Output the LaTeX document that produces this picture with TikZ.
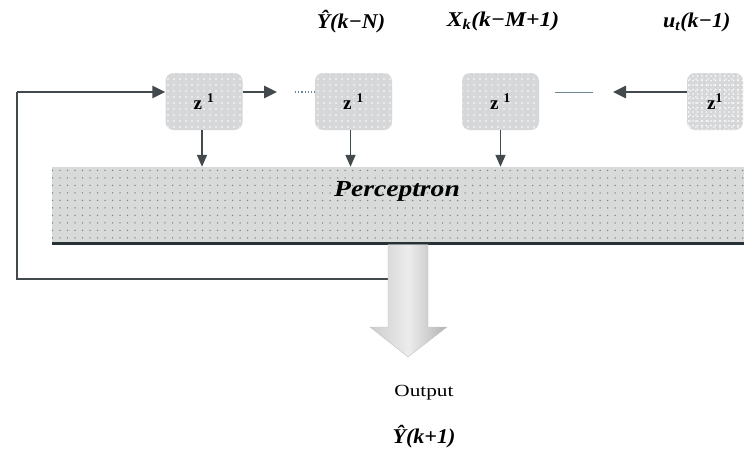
\documentclass[tikz,border=0pt]{standalone}
\usepackage{fontspec}
\usepackage{graphicx}
\setmainfont{Liberation Serif}
\usetikzlibrary{arrows.meta,patterns.meta,calc}
\definecolor{boxfill}{RGB}{213,215,216}
\definecolor{percfill}{RGB}{216,218,218}
\definecolor{percdot}{RGB}{115,127,133}
\definecolor{arrowc}{RGB}{66,74,78}
\definecolor{darkline}{RGB}{40,50,54}
\definecolor{thinc}{RGB}{110,135,150}
\begin{document}
\begin{tikzpicture}[x=1pt,y=-1pt,
  zbox/.style={rounded corners=8pt, minimum width=77pt, minimum height=57pt, inner sep=0pt,
    fill=boxfill, postaction={pattern={Dots[distance=6pt,radius=0.9pt]}, pattern color=white},
    font=\fontsize{19}{19}\selectfont\bfseries},
  percbox/.style={minimum width=692pt, minimum height=76pt, inner sep=0pt,
    fill=percfill, postaction={pattern={Dots[distance=7.5pt,radius=0.75pt]}, pattern color=percdot}},
  lab/.style={font=\fontsize{21}{21}\selectfont\bfseries\itshape, inner sep=0pt},
  harr/.style={draw=arrowc, line width=2.8pt, -{Triangle[length=13pt,width=12pt]}},
  fbline/.style={draw=arrowc, line width=2.6pt},
  downarr/.style={draw=arrowc, line width=1.6pt, -{Triangle[length=12pt,width=10pt]}},
  dotline/.style={draw=thinc, line width=1.2pt, dotted},
  thinline/.style={draw=thinc, line width=1pt}
]
\fill[white] (0,0) rectangle (744,463);
\useasboundingbox (0,0) rectangle (744,463);

% labels
\node[lab] (ly) at (351,22) {\scalebox{1.05}[1]{Ŷ(k−N)}};
\node[lab] (lx) at (503,21) {\scalebox{1.12}[1]{X\textsubscript{k}(k−M+1)}};
\node[lab, anchor=west] (lu) at (663,22) {\scalebox{1.05}[1]{u\textsubscript{t}(k−1)}};

% delay boxes
\node[zbox] (b1) at (204,101.5) {z\hspace{5pt}\textsuperscript{1}};
\node[zbox] (b2) at (353.5,101.5) {z\hspace{5pt}\textsuperscript{1}};
\node[zbox] (b3) at (500.5,101.5) {z\hspace{5pt}\textsuperscript{1}};
\node[zbox, minimum width=56pt, postaction={pattern={Dots[distance=4.5pt,radius=0.8pt]}, pattern color=white}] (b4) at (715,101.5) {z\textsuperscript{1}};

% perceptron
\node[percbox] (perc) at (398,205) {};
\node[font=\fontsize{23}{23}\selectfont\bfseries\itshape] (ptext) at (397,191) {\scalebox{1.2}[1]{Perceptron}};
\draw[darkline, line width=3pt] (perc.south west) -- (perc.south east);

% free ends
\coordinate (fbs) at (388,279);
\coordinate (fbc) at (17,279);
\coordinate (a1e) at (277,92);
\coordinate (d1) at (295,92);
\coordinate (t1) at (555,92);
\coordinate (t2) at (593,92);
\coordinate (a4e) at (613,92);

% feedback
\draw[fbline] (fbs) -- (fbc) -- (fbc |- a1e);
\draw[harr] (fbc |- a1e) -- ([yshift=9.5pt]b1.west);

% horizontal connectors
\draw[harr] ([yshift=9.5pt]b1.east) -- (a1e);
\draw[dotline] (d1) -- ([yshift=9.5pt]b2.west);
\draw[thinline] (t1) -- (t2);
\draw[harr] ([yshift=9.5pt]b4.west) -- (a4e);

% down arrows
\draw[downarr] ([xshift=-2pt]b1.south) -- ([xshift=-2pt]b1.south |- perc.north);
\draw[downarr] ([xshift=-3pt]b2.south) -- ([xshift=-3pt]b2.south |- perc.north);
\draw[downarr] (b3.south) -- (b3.south |- perc.north);

% output arrow
\shade[left color=gray!40, right color=gray!60, middle color=gray!15, draw=gray!45, line width=0.4pt]
  (388,244.5) -- (428,244.5) -- (428,327) -- (447,327) -- (408,357) -- (370,327) -- (388,327) -- cycle;

% output labels
\node[font=\fontsize{17}{17}\selectfont, inner sep=0pt] (outlab) at (424,393) {\scalebox{1.25}[1]{Output}};
\node[lab] (yout) at (424,437) {\scalebox{1.05}[1]{Ŷ(k+1)}};
\end{tikzpicture}
\end{document}
